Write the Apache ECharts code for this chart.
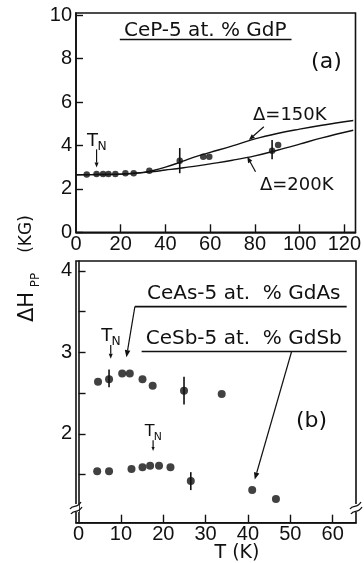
<!DOCTYPE html>
<html>
<head>
<meta charset="utf-8">
<script src="https://cdn.jsdelivr.net/npm/echarts@6/dist/echarts.min.js"></script>
<style>
  html, body { margin: 0; padding: 0; background: #fff; }
  #chart { width: 364px; height: 563px; }
</style>
</head>
<body>
<div id="chart"></div>
<script>
// (a) CeP-5 at.% GdP
var tempA = [4.8, 9.2, 12.1, 14.5, 17.6, 22.1, 25.8, 32.8, 46.4, 56.9, 59.6, 87.7, 90.4];
var dhA = [2.66, 2.68, 2.68, 2.68, 2.68, 2.72, 2.72, 2.83, 3.30, 3.48, 3.48, 3.76, 4.02];
var errA = [[46.4, 2.72, 3.88], [87.7, 3.37, 4.25]];
var curveT = [0, 10, 20, 30, 35, 40, 45, 50, 55, 60, 70, 80, 90, 100, 110, 124];
var fit150 = [2.65, 2.66, 2.68, 2.76, 2.86, 3.0, 3.17, 3.36, 3.53, 3.68, 3.98, 4.3, 4.55, 4.75, 4.93, 5.15];
var fit200 = [2.65, 2.66, 2.68, 2.75, 2.80, 2.87, 2.93, 3.0, 3.07, 3.15, 3.32, 3.52, 3.78, 4.06, 4.35, 4.7];

// (b) CeAs / CeSb
var tempAs = [4.6, 7.2, 10.3, 12.1, 15.1, 17.5, 24.9, 33.8];
var dhAs = [2.64, 2.67, 2.74, 2.74, 2.67, 2.59, 2.53, 2.49];
var tempSb = [4.4, 7.2, 12.5, 15.1, 16.9, 19.0, 21.7, 26.5, 41.0, 46.6];
var dhSb = [1.54, 1.54, 1.57, 1.59, 1.61, 1.61, 1.59, 1.42, 1.31, 1.20];
var errB = [[7.2, 2.57, 2.79], [24.9, 2.36, 2.70], [26.5, 1.31, 1.53]];

// ticks
var xTicksA = [0, 20, 40, 60, 80, 100, 120];
var yTicksA = [0, 2, 4, 6, 8, 10];
var xTicksB = [0, 10, 20, 30, 40, 50, 60];
var yLabelsB = [2, 3, 4];
var yTicksB = [1.5, 2, 2.5, 3, 3.5, 4];

var FONT = 'Liberation Sans';
var TFONT = 'DejaVu Sans';
var INK = '#111';

function zip(a, b) {
	return a.map(function(v, i) { return [v, b[i]]; });
}

function axisX(grid, min, max, labels, ticks) {
	return {
		type: 'value', gridIndex: grid, min: min, max: max,
		splitLine: { show: false },
		axisLine: { lineStyle: { color: INK, width: 1.6 } },
		axisTick: { inside: true, length: 8, customValues: ticks, lineStyle: { color: INK, width: 1.4 } },
		axisLabel: { customValues: labels, color: INK, fontSize: 20, fontFamily: FONT, margin: 2 }
	};
}
function axisY(grid, min, max, labels, ticks) {
	return {
		type: 'value', gridIndex: grid, min: min, max: max,
		splitLine: { show: false },
		axisLine: { lineStyle: { color: INK, width: 1.6 } },
		axisTick: { inside: true, length: 7, customValues: ticks, lineStyle: { color: INK, width: 1.4 } },
		axisLabel: { customValues: labels, color: INK, fontSize: 20, fontFamily: FONT, margin: 4 }
	};
}

function errorBars(grid, data) {
	return {
		type: 'custom', xAxisIndex: grid, yAxisIndex: grid, data: data,
		encode: { x: 0, y: [1, 2] }, z: 3,
		renderItem: function(params, api) {
			var p0 = api.coord([api.value(0), api.value(1)]);
			var p1 = api.coord([api.value(0), api.value(2)]);
			return {
				type: 'line',
				shape: { x1: p0[0], y1: p0[1], x2: p1[0], y2: p1[1] },
				style: { stroke: INK, lineWidth: 1.6 }
			};
		}
	};
}

var chart = echarts.init(document.getElementById('chart'), null, { renderer: 'canvas' });

var option = {
	animation: false,
	backgroundColor: '#fff',
	grid: [
		{ left: 76, top: 13, width: 281, height: 219.3, show: true, borderColor: INK, borderWidth: 1.6, backgroundColor: 'transparent' },
		{ left: 76, top: 261, width: 280, height: 261.7, show: true, borderColor: INK, borderWidth: 1.6, backgroundColor: 'transparent' }
	],
	xAxis: [
		axisX(0, 0, 125, xTicksA, xTicksA.slice(1)),
		axisX(1, -0.6, 65.5, xTicksB, xTicksB.slice(1))
	],
	yAxis: [
		axisY(0, 0, 10.1, yTicksA, yTicksA),
		axisY(1, 0.91, 4.12, yLabelsB, yTicksB)
	],
	series: [
		{
			name: 'Δ=150K', type: 'line', xAxisIndex: 0, yAxisIndex: 0,
			data: zip(curveT, fit150), smooth: 0.4, showSymbol: false,
			lineStyle: { color: INK, width: 1.4 }
		},
		{
			name: 'Δ=200K', type: 'line', xAxisIndex: 0, yAxisIndex: 0,
			data: zip(curveT, fit200), smooth: 0.4, showSymbol: false,
			lineStyle: { color: INK, width: 1.4 }
		},
		{
			name: 'CeP-5 at.% GdP', type: 'scatter', xAxisIndex: 0, yAxisIndex: 0,
			data: zip(tempA, dhA), symbolSize: 6.5, itemStyle: { color: INK }, z: 4
		},
		errorBars(0, errA),
		{
			name: 'CeAs-5 at.% GdAs', type: 'scatter', xAxisIndex: 1, yAxisIndex: 1,
			data: zip(tempAs, dhAs), symbolSize: 8, itemStyle: { color: INK }, z: 4
		},
		{
			name: 'CeSb-5 at.% GdSb', type: 'scatter', xAxisIndex: 1, yAxisIndex: 1,
			data: zip(tempSb, dhSb), symbolSize: 8, itemStyle: { color: INK }, z: 4
		},
		errorBars(1, errB)
	]
};
chart.setOption(option);

// ---- annotations (placed in data space of each panel) ----
function px(grid, x, y) {
	return chart.convertToPixel({ gridIndex: grid }, [x, y]);
}
function text(p, str, size, extra) {
	var t = {
		type: 'text', x: p[0], y: p[1], z: 10,
		style: { text: str, fontSize: size, fontFamily: TFONT, fill: INK, align: 'center', verticalAlign: 'middle' }
	};
	if (extra) Object.assign(t, extra);
	return t;
}
function seg(a, b, w) {
	return {
		type: 'line', z: 10,
		shape: { x1: a[0], y1: a[1], x2: b[0], y2: b[1] },
		style: { stroke: INK, lineWidth: w || 1.3 }
	};
}
// line from a to b with an arrow head at b
function arrow(a, b, head) {
	head = head || 6;
	var dx = b[0] - a[0], dy = b[1] - a[1];
	var len = Math.sqrt(dx * dx + dy * dy);
	var ux = dx / len, uy = dy / len;
	var bx = b[0] - ux * head, by = b[1] - uy * head;
	var w = head * 0.4;
	return [
		seg(a, [bx, by], 1.2),
		{
			type: 'polygon', z: 10,
			shape: { points: [b, [bx - uy * w, by + ux * w], [bx + uy * w, by - ux * w]] },
			style: { fill: INK }
		}
	];
}
function tn(p, size) {
	return [
		text([p[0] - size * 0.22, p[1]], 'T', size),
		text([p[0] + size * 0.3, p[1] + size * 0.32], 'N', size * 0.68)
	];
}
function axisBreak(x, y) {
	return [
		{ type: 'rect', z: 9, shape: { x: x - 3, y: y - 4, width: 6, height: 8 }, style: { fill: '#fff' } },
		{ type: 'bezierCurve', z: 10, shape: { x1: x - 6, y1: y + 1, x2: x + 5, y2: y - 6, cpx1: x - 3, cpy1: y - 4, cpx2: x + 1, cpy2: y + 1 }, style: { stroke: INK, lineWidth: 1.3, fill: null } },
		{ type: 'bezierCurve', z: 10, shape: { x1: x - 5, y1: y + 6, x2: x + 6, y2: y - 1, cpx1: x - 2, cpy1: y + 1, cpx2: x + 2, cpy2: y + 6 }, style: { stroke: INK, lineWidth: 1.3, fill: null } }
	];
}

var g = [];
// panel (a)
g.push(text(px(0, 57.8, 9.26), 'CeP-5 at. % GdP', 20));
g.push(seg(px(0, 19.6, 8.88), px(0, 96.4, 8.88), 1.6));
g.push(text(px(0, 112, 7.83), '(a)', 22));
g = g.concat(tn(px(0, 9.2, 4.2), 18));
g = g.concat(arrow(px(0, 9.2, 3.82), px(0, 9.2, 2.98), 5));
g.push(text(px(0, 95.6, 5.4), 'Δ=150K', 18));
g = g.concat(arrow(px(0, 84, 4.86), px(0, 77.3, 4.25), 6));
g.push(text(px(0, 98.7, 2.18), 'Δ=200K', 18));
g = g.concat(arrow(px(0, 80.3, 2.79), px(0, 76.6, 3.48), 6));

// panel (b)
g.push(text(px(1, 39.0, 3.72), 'CeAs-5 at.  % GdAs', 20));
g.push(seg(px(1, 13.3, 3.56), px(1, 63.3, 3.56), 1.6));
g = g.concat(arrow(px(1, 13.3, 3.56), px(1, 11.3, 2.94), 7));
g.push(text(px(1, 39.0, 3.17), 'CeSb-5 at.  % GdSb', 20));
g.push(seg(px(1, 14.9, 3.01), px(1, 63.3, 3.01), 1.6));
g = g.concat(arrow(px(1, 50.3, 3.01), px(1, 41.6, 1.44), 7));
g.push(text(px(1, 55, 2.15), '(b)', 22));
g = g.concat(tn(px(1, 7.6, 3.2), 18));
g = g.concat(arrow(px(1, 7.6, 3.09), px(1, 7.6, 2.92), 5));
g = g.concat(tn(px(1, 17.6, 2.02), 16));
g = g.concat(arrow(px(1, 17.6, 1.92), px(1, 17.6, 1.79), 4));

// axis breaks on panel (b)
var bl = px(1, -0.6, 1.09), br = px(1, 65.5, 1.09);
g = g.concat(axisBreak(bl[0], bl[1]));
g = g.concat(axisBreak(br[0], br[1]));

// shared y title and x title
g.push(text([28, 307], 'ΔH', 21, { rotation: Math.PI / 2 }));
g.push(text([36, 280], 'PP', 12, { rotation: Math.PI / 2 }));
g.push(text([27, 234], '(KG)', 17, { rotation: Math.PI / 2 }));
g.push(text([237, 553], 'T (K)', 19));

chart.setOption({ graphic: g });
</script>
</body>
</html>
